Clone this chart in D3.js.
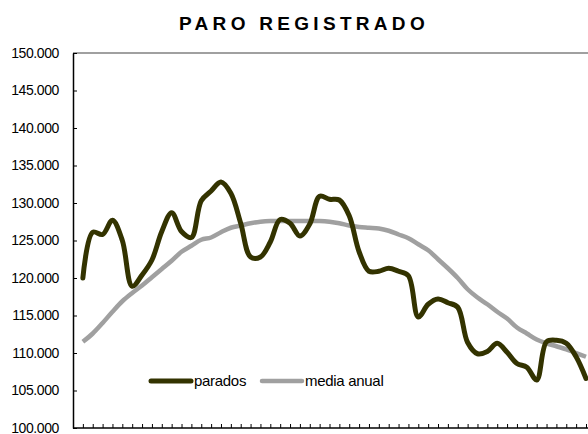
<!DOCTYPE html>
<html>
<head>
<meta charset="utf-8">
<script src="https://cdn.jsdelivr.net/npm/d3@7"></script>
<style>
  body { margin: 0; background: #fff; }
  svg { display: block; font-family: "Liberation Sans", Arial, sans-serif; }
</style>
</head>
<body>
<div id="main"></div>
<script>
// monthly values, thousands of people
var parados = [
  120.0, 126.1, 125.8, 127.7, 125.0, 118.9, 120.4, 122.4, 126.2, 128.7,
  126.2, 125.4, 130.3, 131.6, 132.8, 131.3, 127.3, 122.8, 122.8, 124.8,
  127.8, 127.3, 125.6, 127.2, 130.9, 130.5, 130.4, 128.3, 123.5, 120.9,
  120.9, 121.3, 120.9, 120.3, 114.8, 116.5, 117.2, 116.7, 116.1, 111.4,
  109.9, 110.2, 111.3, 110.1, 108.6, 108.1, 106.4, 111.5, 111.7, 111.3,
  109.5, 106.6
];
var mediaAnual = [
  111.5, 112.6, 114.0, 115.5, 116.9, 118.0, 119.0, 120.1, 121.2, 122.3,
  123.5, 124.3, 125.1, 125.4, 126.1, 126.7, 127.0, 127.3, 127.5, 127.6,
  127.6, 127.6, 127.6, 127.6, 127.6, 127.5, 127.3, 127.0, 126.8, 126.7,
  126.6, 126.3, 125.8, 125.3, 124.5, 123.7, 122.5, 121.3, 120.0, 118.5,
  117.4, 116.5, 115.5, 114.6, 113.4, 112.6, 111.8, 111.3, 110.9, 110.5,
  110.0, 109.5
];
var yTicks = [100000, 105000, 110000, 115000, 120000, 125000, 130000, 135000, 140000, 145000, 150000];
var seriesNames = ["parados", "media anual"];

var w = 588, h = 434;
var plotLeft = 73, plotTop = 53, plotBottom = 428;

var svg = d3.select("#main").append("svg")
  .attr("width", w)
  .attr("height", h);

var x = d3.scaleLinear().domain([-1, 51]).range([plotLeft, 586]);
var y = d3.scaleLinear().domain([100000, 150000]).range([plotBottom, plotTop]);

var loc = d3.formatLocale({decimal: ",", thousands: ".", grouping: [3], currency: ["", ""]});
var fmt = loc.format(",.0f");

// title
svg.append("text")
  .attr("x", 304)
  .attr("y", 30)
  .attr("text-anchor", "middle")
  .style("font-size", "19px")
  .style("font-weight", "bold")
  .style("letter-spacing", "4.3px")
  .text("PARO REGISTRADO");

// plot border (top), axes
svg.append("line")
  .attr("x1", plotLeft).attr("x2", 600)
  .attr("y1", plotTop).attr("y2", plotTop)
  .attr("stroke", "#808080").attr("stroke-width", 1.5);

var yAxis = d3.axisLeft(y).tickValues(yTicks).tickSizeInner(-4).tickSizeOuter(0)
  .tickPadding(14).tickFormat(fmt);
var gy = svg.append("g").attr("transform", "translate(" + plotLeft + ",0)").call(yAxis);
gy.select(".domain").attr("stroke", "#000").attr("stroke-width", 1.5);
gy.selectAll(".tick line").attr("stroke", "#000");
gy.selectAll(".tick text")
  .attr("fill", "#000")
  .style("font-family", "Liberation Sans, Arial, sans-serif")
  .style("font-size", "14px")
  .style("letter-spacing", "-0.4px");

var xAxis = d3.axisBottom(x).tickValues(d3.range(0, 53)).tickSizeInner(-4).tickSizeOuter(0)
  .tickFormat("");
var gx = svg.append("g").attr("transform", "translate(0," + plotBottom + ")").call(xAxis);
gx.select(".domain").attr("stroke", "#000").attr("stroke-width", 1.5)
  .attr("d", "M" + plotLeft + ",0H600");
gx.selectAll(".tick line").attr("stroke", "#000");

// lines
var line = d3.line()
  .x(function(d, i) { return x(i); })
  .y(function(d) { return y(d * 1000); })
  .curve(d3.curveCatmullRom.alpha(0.5));

svg.append("path")
  .datum(mediaAnual)
  .attr("d", line)
  .attr("fill", "none")
  .attr("stroke", "#a0a0a0")
  .attr("stroke-width", 4.5)
  .attr("stroke-linejoin", "round");

svg.append("path")
  .datum(parados)
  .attr("d", line)
  .attr("fill", "none")
  .attr("stroke", "#333300")
  .attr("stroke-width", 5)
  .attr("stroke-linejoin", "round")
  .attr("stroke-linecap", "round");

// legend
var legend = [
  {name: seriesNames[0], color: "#333300", x: 149, tx: 194, sw: 5},
  {name: seriesNames[1], color: "#a0a0a0", x: 260, tx: 305, sw: 4.5}
];
var lg = svg.selectAll(".legend").data(legend).enter().append("g").attr("class", "legend");
lg.append("line")
  .attr("x1", function(d) { return d.x + 2; })
  .attr("x2", function(d) { return d.x + 42; })
  .attr("y1", 381).attr("y2", 381)
  .attr("stroke", function(d) { return d.color; })
  .attr("stroke-width", function(d) { return d.sw; })
  .attr("stroke-linecap", "round");
lg.append("text")
  .attr("x", function(d) { return d.tx; })
  .attr("y", 386)
  .style("font-size", "15px")
  .style("letter-spacing", "-0.3px")
  .text(function(d) { return d.name; });
</script>
</body>
</html>
